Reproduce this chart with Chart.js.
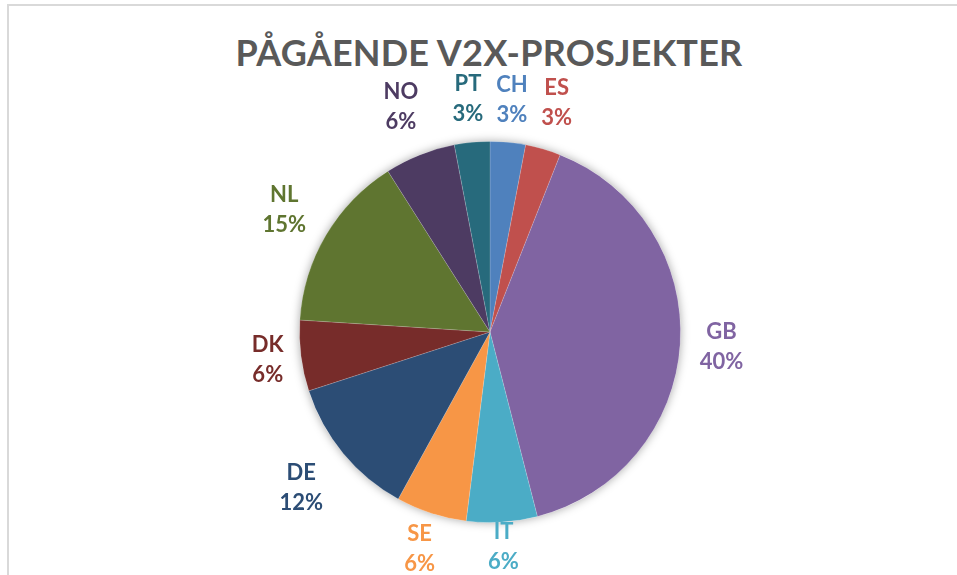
<!DOCTYPE html>
<html>
<head>
<meta charset="utf-8">
<script src="https://cdn.jsdelivr.net/npm/chart.js@4.4.1/dist/chart.umd.min.js"></script>
<style>
    html, body { margin: 0; padding: 0; background: #fff; }
    body { width: 957px; height: 575px; position: relative; overflow: hidden; }
    .frame {
        position: absolute; left: 7px; top: 4px; right: -10px; bottom: -10px;
        border-top: 2px solid #d9d9d9; border-left: 2px solid #d9d9d9;
    }
    .title {
        position: absolute; left: 0; width: 978px; top: 30px; text-align: center;
        font-family: Lato, 'Open Sans', sans-serif; font-weight: 700; font-size: 36px;
        color: #595959; letter-spacing: 0.2px;
    }
    #pie { position: absolute; left: 0; top: 0; }
</style>
</head>
<body>
<div class="frame"></div>
<div class="title">PÅGÅENDE V2X-PROSJEKTER</div>
<canvas id="pie" width="957" height="575"></canvas>
<script>
// Data
const countries = ['CH', 'ES', 'GB', 'IT', 'SE', 'DE', 'DK', 'NL', 'NO', 'PT'];
const shares = [3, 3, 40, 6, 6, 12, 6, 15, 6, 3];

// Styles
const sliceColors = ['#4F81BD', '#C0504D', '#8064A2', '#4BACC6', '#F79646', '#2C4D75', '#772C2A', '#5F7530', '#4D3B62', '#276A7C'];
const labelDist = [233, 239, 232, 215, 228, 245, 224, 239, 242, 234];

// soft shadow behind the pie, like Excel
const pieShadow = {
    id: 'pieShadow',
    beforeDatasetsDraw(chart) {
        const arc = chart.getDatasetMeta(0).data[0];
        if (!arc) return;
        const ctx = chart.ctx;
        ctx.save();
        ctx.shadowColor = 'rgba(0,0,0,0.35)';
        ctx.shadowBlur = 10;
        ctx.fillStyle = '#fff';
        ctx.beginPath();
        ctx.arc(arc.x, arc.y, arc.outerRadius, 0, Math.PI * 2);
        ctx.fill();
        ctx.restore();
    }
};

// outside labels: name + percent
const outsideLabels = {
    id: 'outsideLabels',
    afterDatasetsDraw(chart) {
        const ctx = chart.ctx;
        const meta = chart.getDatasetMeta(0);
        ctx.save();
        ctx.font = "bold 22px Lato, 'Open Sans', sans-serif";
        ctx.textAlign = 'center';
        ctx.textBaseline = 'middle';
        meta.data.forEach((arc, i) => {
            const mid = (arc.startAngle + arc.endAngle) / 2;
            const x = arc.x + Math.cos(mid) * labelDist[i];
            const y = arc.y + Math.sin(mid) * labelDist[i];
            ctx.fillStyle = sliceColors[i];
            ctx.fillText(countries[i], x, y - 15);
            ctx.fillText(shares[i] + '%', x, y + 15);
        });
        ctx.restore();
    }
};

new Chart(document.getElementById('pie'), {
    type: 'pie',
    data: {
        labels: countries,
        datasets: [{
            data: shares,
            backgroundColor: sliceColors,
            borderColor: 'rgba(255,255,255,0.15)',
            borderWidth: 1
        }]
    },
    options: {
        responsive: false,
        animation: false,
        layout: { padding: { top: 141, bottom: 52, left: 23, right: 0 } },
        plugins: {
            legend: { display: false },
            title: { display: false },
            tooltip: { enabled: false }
        }
    },
    plugins: [pieShadow, outsideLabels]
});
</script>
</body>
</html>
